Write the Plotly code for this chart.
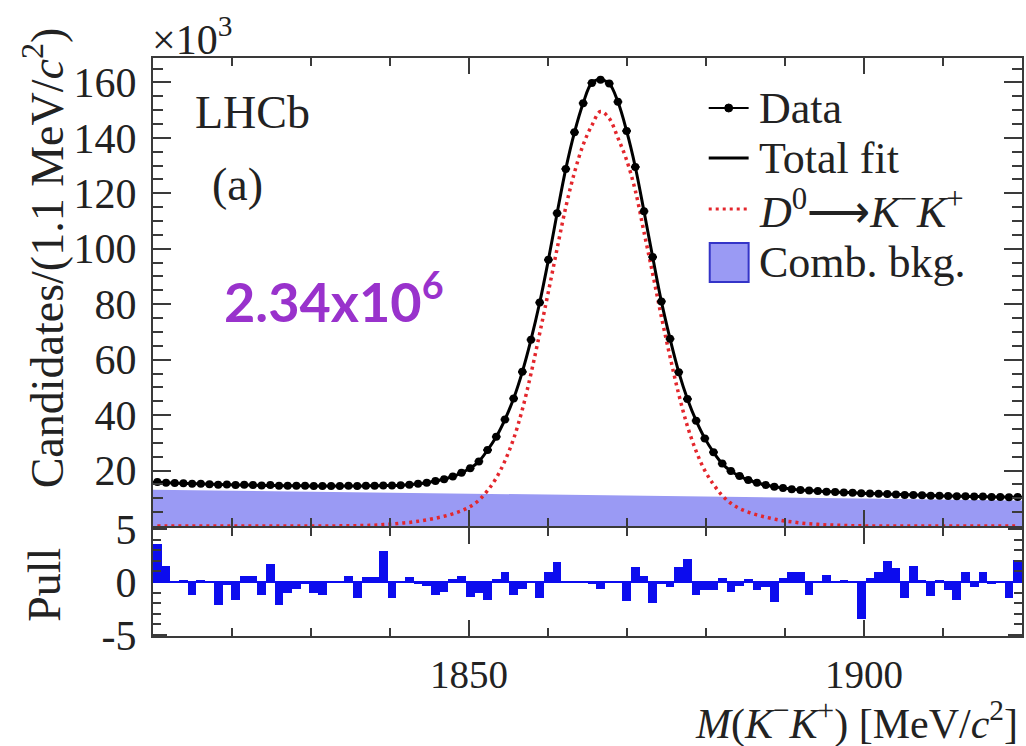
import plotly.graph_objects as go

# ---------------- data ----------------
bin_lo = 1810.0
bin_w = 1.1
n_bins = 100
mass = [round(bin_lo + bin_w * (i + 0.5), 3) for i in range(n_bins)]

data_k = [15.9, 15.6, 15.5, 15.4, 15.2, 15.2, 15.1, 14.9, 15.0, 14.8,
          14.9, 14.8, 14.6, 14.8, 14.5, 14.5, 14.5, 14.5, 14.4, 14.4,
          14.4, 14.4, 14.5, 14.4, 14.5, 14.5, 14.6, 14.6, 14.7, 14.9,
          15.2, 15.6, 16.2, 16.9, 17.9, 19.2, 20.8, 23.3, 27.4, 32.2,
          38.4, 46.0, 55.6, 67.2, 80.6, 96.0, 112.8, 128.8, 142.0, 152.5,
          159.8, 161.0, 159.6, 153.0, 142.5, 129.5, 113.5, 97.0, 81.0, 67.5,
          55.5, 45.8, 38.0, 31.6, 26.6, 22.5, 19.8, 18.0, 16.6, 15.6,
          14.8, 14.2, 13.7, 13.3, 13.0, 12.8, 12.6, 12.4, 12.3, 12.1,
          12.0, 11.8, 11.7, 11.6, 11.5, 11.4, 11.2, 11.2, 11.1, 10.9,
          10.9, 10.8, 10.7, 10.7, 10.6, 10.6, 10.5, 10.5, 10.4, 10.5]

fit_total_k = [15.8, 15.6, 15.5, 15.4, 15.3, 15.2, 15.1, 15.0, 14.9, 14.8,
               14.8, 14.7, 14.7, 14.6, 14.6, 14.5, 14.5, 14.5, 14.4, 14.4,
               14.4, 14.4, 14.4, 14.4, 14.5, 14.5, 14.6, 14.6, 14.7, 14.9,
               15.2, 15.6, 16.2, 16.9, 17.9, 19.2, 20.8, 23.3, 27.4, 32.2,
               38.4, 46.0, 55.6, 67.2, 80.6, 96.0, 112.8, 128.8, 142.0, 152.5,
               159.8, 161.0, 159.6, 153.0, 142.5, 129.5, 113.5, 97.0, 81.0, 67.5,
               55.5, 45.8, 38.0, 31.6, 26.6, 22.5, 19.8, 18.0, 16.6, 15.6,
               14.8, 14.2, 13.7, 13.3, 13.0, 12.8, 12.6, 12.4, 12.3, 12.1,
               12.0, 11.8, 11.7, 11.6, 11.5, 11.4, 11.3, 11.2, 11.1, 11.0,
               10.9, 10.8, 10.8, 10.7, 10.6, 10.6, 10.5, 10.5, 10.4, 10.4]

signal_k = [0.0, 0.0, 0.0, 0.0, 0.0, 0.0, 0.0, 0.0, 0.0, 0.0,
            0.0, 0.0, 0.0, 0.0, 0.0, 0.0, 0.0, 0.0, 0.0, 0.0,
            0.02, 0.05, 0.08, 0.12, 0.2, 0.3, 0.5, 0.7, 1.0, 1.3,
            1.7, 2.2, 2.8, 3.5, 4.4, 5.5, 7.0, 9.3, 12.8, 17.3,
            23.5, 31.5, 42.0, 55.0, 69.5, 84.5, 100.0, 115.0, 127.5, 137.5,
            144.5, 149.5, 147.0, 140.0, 132.0, 121.0, 106.0, 91.0, 75.5, 61.0,
            47.5, 36.0, 27.0, 20.0, 15.0, 11.0, 8.2, 6.3, 5.0, 4.0,
            3.2, 2.5, 1.9, 1.5, 1.1, 0.8, 0.6, 0.4, 0.3, 0.2,
            0.1, 0.06, 0.03, 0.02, 0.0, 0.0, 0.0, 0.0, 0.0, 0.0,
            0.0, 0.0, 0.0, 0.0, 0.0, 0.0, 0.0, 0.0, 0.0, 0.0]

bkg_mass = [1810.0, 1920.0]
bkg_k = [13.1, 9.2]

pull = [3.6, 1.5, 0.1, 0.2, -1.2, 0.2, 0.0, -2.2, -0.3, -1.7,
        0.6, 0.6, -1.2, 1.7, -2.2, -1.0, -0.7, -0.1, -1.0, -1.2,
        0.05, -0.05, 0.6, -1.5, 0.5, 0.5, 2.9, -1.5, 0.0, 0.5,
        -0.1, -0.4, -1.2, -0.9, 0.3, 0.6, -1.4, -1.0, -1.7, 0.25,
        0.9, -1.2, -0.7, 0.0, -1.5, 0.9, 1.9, 0.0, 0.0, 0.0,
        -0.1, -0.7, 0.0, 0.0, -1.8, 1.4, 0.6, -2.0, -0.1, -0.5,
        1.4, 2.2, -1.2, -0.8, -0.8, 0.4, -0.9, -0.4, 0.3, -0.8,
        -0.5, -1.9, 0.4, 0.9, 0.9, -1.2, 0.0, 0.7, 0.0, 0.2,
        0.0, -3.5, 0.4, 0.9, 2.0, 1.3, -1.5, 1.5, 0.2, -1.3,
        0.2, -0.8, -1.7, 0.9, -0.5, 0.9, -0.1, 0.0, -1.5, 2.1]

y_ticks_top = [20, 40, 60, 80, 100, 120, 140, 160]
y_ticks_pull = [-5, 0, 5]
x_ticks = [1850, 1900]

legend_labels = ["Data", "Total fit",
                 "<i>D</i><sup>0</sup>⟶<i>K</i><sup>−</sup><i>K</i><sup>+</sup>",
                 "Comb. bkg."]

# ---------------- figure ----------------
W, H = 1026, 746
ML, MR, MT, MB = 153, 2, 58, 110
PW, PH = W - ML - MR, H - MT - MB


def px(xp):
    return (xp - ML) / PW


def py(yp):
    return (H - MB - yp) / PH


SERIF = "Liberation Serif"
AX = "#3a3a3a"
TXT = "#222222"
BKG_FILL = "#9a9af4"
BKG_EDGE = "#3434c8"
SIG_COL = "#e3262c"
PULL_COL = "#0c0cee"
SIG_DASH = "3px,4px"

fig = go.Figure()

fig.add_trace(go.Scatter(
    x=bkg_mass, y=bkg_k, xaxis="x2", yaxis="y2", mode="lines",
    fill="tozeroy", fillcolor=BKG_FILL, line=dict(color=BKG_FILL, width=0),
    name="Comb. bkg."))

fig.add_trace(go.Scatter(
    x=mass, y=signal_k, xaxis="x2", yaxis="y2", mode="lines",
    line=dict(color=SIG_COL, width=3.5, dash=SIG_DASH, shape="spline"),
    name="signal"))

fig.add_trace(go.Scatter(
    x=mass, y=fit_total_k, xaxis="x2", yaxis="y2", mode="lines",
    line=dict(color="black", width=3, shape="spline"),
    name="Total fit"))

fig.add_trace(go.Scatter(
    x=mass, y=data_k, xaxis="x2", yaxis="y2", mode="markers",
    marker=dict(color="black", size=8),
    error_x=dict(type="constant", value=bin_w / 2, color="black",
                 thickness=2, width=0),
    name="Data"))

fig.add_trace(go.Bar(
    x=mass, y=pull, xaxis="x", yaxis="y", width=bin_w,
    marker=dict(color=PULL_COL, line=dict(width=0)), name="Pull"))

fig.add_shape(type="line", xref="x", yref="y", x0=1810, x1=1920, y0=0, y1=0,
              line=dict(color=PULL_COL, width=2))

tickfont = dict(family=SERIF, size=42, color=TXT)

common_x = dict(range=[1810, 1920], showline=True, linecolor=AX, linewidth=2,
                mirror="ticks", ticks="inside", ticklen=16, tickwidth=2,
                tickcolor=AX, tickvals=x_ticks, showgrid=False, zeroline=False,
                minor=dict(dtick=10, tick0=1810, ticks="inside", ticklen=8,
                           tickwidth=2, tickcolor=AX, showgrid=False))

fig.update_layout(
    width=W, height=H, margin=dict(l=ML, r=MR, t=MT, b=MB),
    paper_bgcolor="white", plot_bgcolor="white",
    bargap=0, showlegend=False,
    xaxis=dict(**common_x, anchor="y", domain=[0, 1],
               tickfont=dict(family=SERIF, size=39, color=TXT),
               ticklabelstandoff=3),
    yaxis=dict(domain=[0, 0.1869], range=[-5.1, 5.1], showline=True,
               linecolor=AX, linewidth=2, mirror="ticks", ticks="inside",
               ticklen=14, tickwidth=2, tickcolor=AX, tickvals=y_ticks_pull,
               ticktext=["-5", "0", "5"], tickfont=tickfont,
               showgrid=False, zeroline=False, ticklabelstandoff=6,
               minor=dict(dtick=1, ticks="inside", ticklen=8, tickwidth=2,
                          tickcolor=AX, showgrid=False)),
    xaxis2=dict(**common_x, anchor="y2", domain=[0, 1], matches="x",
                showticklabels=False),
    yaxis2=dict(domain=[0.1903, 1], range=[0, 168.8], showline=True,
                linecolor=AX, linewidth=2, mirror="ticks", ticks="inside",
                ticklen=18, tickwidth=2, tickcolor=AX, tickvals=y_ticks_top,
                tickfont=tickfont, showgrid=False, zeroline=False,
                ticklabelstandoff=6,
                minor=dict(dtick=5, ticks="inside", ticklen=10, tickwidth=2,
                           tickcolor=AX, showgrid=False)),
)

# ---- legend drawn by hand (paper coordinates) ----
leg_x0, leg_x1, leg_tx = 710, 750, 758
leg_rows = [108, 158, 209, 262]
fig.add_shape(type="line", xref="paper", yref="paper",
              x0=px(leg_x0), x1=px(leg_x1), y0=py(leg_rows[0]), y1=py(leg_rows[0]),
              line=dict(color="black", width=2))
fig.add_shape(type="circle", xref="paper", yref="paper",
              x0=px(726), x1=px(734), y0=py(leg_rows[0] + 4), y1=py(leg_rows[0] - 4),
              fillcolor="black", line=dict(color="black", width=1))
fig.add_shape(type="line", xref="paper", yref="paper",
              x0=px(leg_x0), x1=px(leg_x1), y0=py(leg_rows[1]), y1=py(leg_rows[1]),
              line=dict(color="black", width=3))
fig.add_shape(type="line", xref="paper", yref="paper",
              x0=px(leg_x0), x1=px(leg_x1), y0=py(leg_rows[2]), y1=py(leg_rows[2]),
              line=dict(color=SIG_COL, width=3, dash=SIG_DASH))
fig.add_shape(type="rect", xref="paper", yref="paper",
              x0=px(711), x1=px(750), y0=py(282), y1=py(243),
              fillcolor=BKG_FILL, line=dict(color=BKG_EDGE, width=2))
for lab, yy in zip(legend_labels, leg_rows):
    fig.add_annotation(text=lab, x=px(leg_tx), y=py(yy), xref="paper", yref="paper",
                       xanchor="left", yanchor="middle", showarrow=False,
                       font=dict(family=SERIF, size=44, color=TXT))

ann = [
    dict(text="Candidates/(1.1 MeV/<i>c</i><sup>2</sup>)", x=px(12), y=py(258),
         textangle=-90, font=dict(family=SERIF, size=46, color=TXT)),
    dict(text="Pull", x=px(16), y=py(585), textangle=-90,
         font=dict(family=SERIF, size=46, color=TXT)),
    dict(text="<i>M</i>(<i>K</i><sup>−</sup><i>K</i><sup>+</sup>) [MeV/<i>c</i><sup>2</sup>]",
         x=px(1022), y=py(721), xanchor="right",
         font=dict(family=SERIF, size=42, color=TXT)),
    dict(text="×10<sup>3</sup>", x=px(150), y=py(36), xanchor="left",
         font=dict(family=SERIF, size=42, color=TXT)),
    dict(text="LHCb", x=px(193), y=py(112), xanchor="left",
         font=dict(family=SERIF, size=46, color=TXT)),
    dict(text="(a)", x=px(210), y=py(184), xanchor="left",
         font=dict(family=SERIF, size=46, color=TXT)),
    dict(text="<b>2.34x10<sup>6</sup></b>", x=px(222), y=py(298), xanchor="left",
         font=dict(family="Lato", size=54, color="#9932cc")),
]
for a in ann:
    a.setdefault("xref", "paper")
    a.setdefault("yref", "paper")
    a.setdefault("showarrow", False)
    a.setdefault("yanchor", "middle")
    fig.add_annotation(**a)

fig.write_html("out.html")
